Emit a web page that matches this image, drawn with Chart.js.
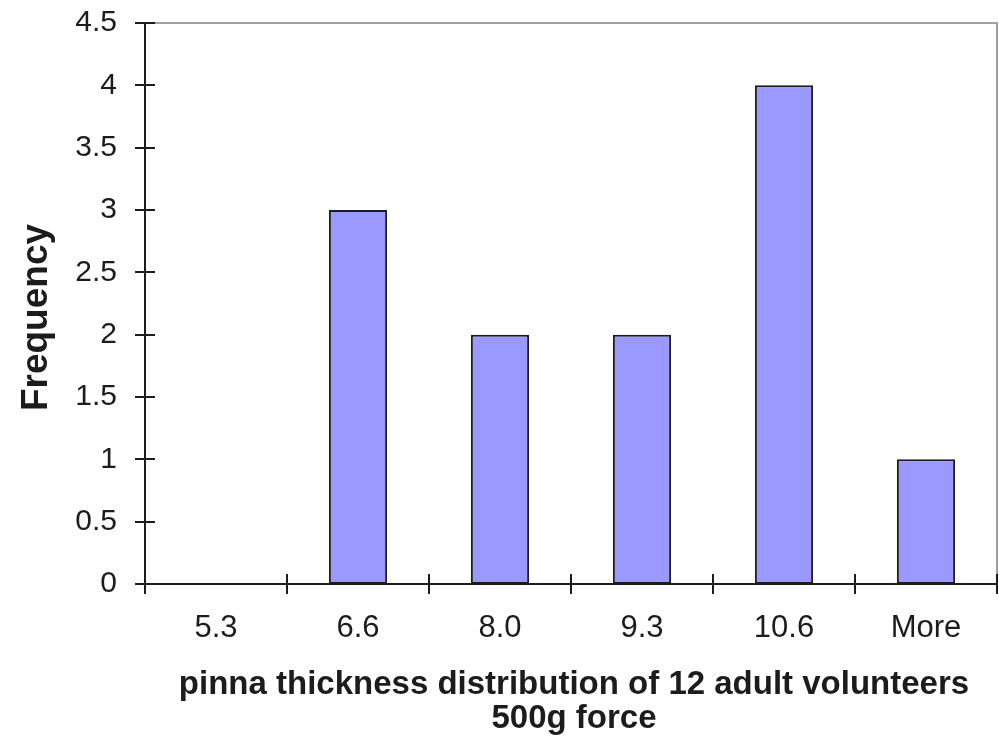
<!DOCTYPE html>
<html>
<head>
<meta charset="utf-8">
<script src="https://cdn.jsdelivr.net/npm/chart.js@4/dist/chart.umd.min.js"></script>
<style>
  html, body { margin: 0; padding: 0; background: #ffffff; }
  #c { display: block; }
</style>
</head>
<body>
<canvas id="c" width="999" height="743"></canvas>
<script>
// ---- data ----
const categories = ['5.3', '6.6', '8.0', '9.3', '10.6', 'More'];
const frequency = [0, 3, 2, 2, 4, 1];
const yMin = 0;
const yMax = 4.5;
const yStep = 0.5;
const yTitle = 'Frequency';
const xTitleLines = ['pinna thickness distribution of 12 adult volunteers', '500g force'];

const FONT = '"Liberation Sans", Arial, Helvetica, sans-serif';

const decor = {
  id: 'decor',
  afterDraw(chart) {
    const { ctx, chartArea: a, scales: { x, y } } = chart;
    ctx.save();
    // grey top / right frame
    ctx.lineWidth = 2;
    ctx.strokeStyle = '#a0a0a0';
    ctx.beginPath();
    ctx.moveTo(a.left, a.top);
    ctx.lineTo(a.right, a.top);
    ctx.lineTo(a.right, a.bottom);
    ctx.stroke();
    // black axes
    ctx.strokeStyle = '#1c1c1c';
    ctx.beginPath();
    ctx.moveTo(a.left, a.top - 1);
    ctx.lineTo(a.left, a.bottom);
    ctx.lineTo(a.right + 1, a.bottom);
    ctx.stroke();
    // y ticks (crossing)
    ctx.beginPath();
    y.ticks.forEach(t => {
      const py = Math.round(y.getPixelForValue(t.value));
      ctx.moveTo(a.left - 10, py);
      ctx.lineTo(a.left + 10, py);
    });
    // x ticks at category boundaries (crossing)
    for (let i = 0; i <= categories.length; i++) {
      const px = Math.round(x.getPixelForValue(i - 0.5));
      ctx.moveTo(px, a.bottom - 10);
      ctx.lineTo(px, a.bottom + 10);
    }
    ctx.stroke();

    // axis titles
    ctx.fillStyle = '#1c1c1c';
    ctx.font = 'bold 37px ' + FONT;
    ctx.textAlign = 'center';
    ctx.textBaseline = 'middle';
    ctx.save();
    ctx.translate(37, (a.top + a.bottom) / 2 + 14);
    ctx.rotate(-Math.PI / 2);
    ctx.fillText(yTitle, 0, 0);
    ctx.restore();

    ctx.font = 'bold 33px ' + FONT;
    ctx.textBaseline = 'alphabetic';
    const cx = (a.left + a.right) / 2 + 3;
    xTitleLines.forEach((line, i) => {
      ctx.fillText(line, cx, 694 + i * 34);
    });
    ctx.restore();
  }
};

new Chart(document.getElementById('c'), {
  type: 'bar',
  data: {
    labels: categories,
    datasets: [{
      data: frequency,
      backgroundColor: '#9999ff',
      borderColor: '#1c1c1c',
      borderWidth: 2,
      borderSkipped: false,
      categoryPercentage: 1.0,
      barPercentage: 0.41
    }]
  },
  options: {
    responsive: false,
    animation: false,
    devicePixelRatio: 1,
    layout: { padding: { top: 23, right: 2, left: 0, bottom: 0 } },
    plugins: {
      legend: { display: false },
      tooltip: { enabled: false }
    },
    scales: {
      x: {
        offset: true,
        grid: { display: false, drawTicks: false },
        border: { display: false },
        ticks: {
          color: '#1c1c1c',
          font: { family: FONT, size: 31 },
          padding: 26,
          maxRotation: 0,
          autoSkip: false
        },
        afterFit(scale) {
          scale.height = 159;
          scale.paddingLeft = 0;
          scale.paddingRight = 0;
        }
      },
      y: {
        min: yMin,
        max: yMax,
        grid: { display: false, drawTicks: false },
        border: { display: false },
        ticks: {
          stepSize: yStep,
          color: '#1c1c1c',
          font: { family: FONT, size: 30 },
          padding: 28,
          callback: v => String(v)
        },
        afterFit(scale) {
          scale.width = 145;
          scale.paddingTop = 0;
          scale.paddingBottom = 0;
        }
      }
    }
  },
  plugins: [decor]
});
</script>
</body>
</html>
